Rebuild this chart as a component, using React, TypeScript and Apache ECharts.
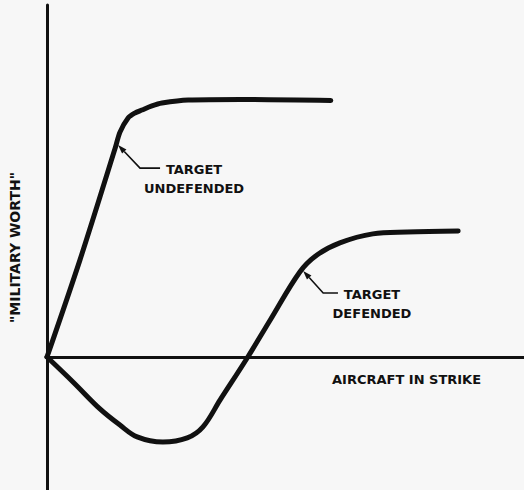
import React, { useEffect, useRef } from "react";
import * as echarts from "echarts";

// Aircraft in strike (relative scale) vs. "military worth" (relative scale)
const undefendedX = [0, 6.9, 14.3, 15.3, 17.0, 18.4, 19.9, 22.0, 24.1, 29.6, 40.5, 59.5];
const undefendedY = [0, 37.7, 81.3, 87.5, 93.0, 94.9, 96.1, 97.7, 98.8, 100, 100.2, 99.8];

const defendedX = [0, 5.45, 11.1, 15.3, 18.9, 24.3, 29.4, 32.7, 36.3, 42.1, 46.8, 53.0, 56.6, 61.4, 68.3, 75.5, 86.2];
const defendedY = [0, -9.7, -20.2, -26.5, -31.1, -33.1, -31.5, -27.2, -16.7, 0, 14.4, 33.1, 39.7, 44.4, 47.9, 48.6, 49.0];

// Callouts: arrow tip on the curve, elbow of the leader, end of the leader
const calloutLabels = ["TARGET\nUNDEFENDED", "TARGET\nDEFENDED"];
const calloutTips = [[14.9, 82.5], [53.7, 33.5]];
const calloutElbows = [[19.5, 73.5], [57.9, 24.9]];
const calloutEnds = [[23.7, 73.5], [61.0, 24.9]];

const axisTitleY = '"MILITARY WORTH"';
const axisTitleX = "AIRCRAFT IN STRIKE";

const INK = "#111111";
const FONT = '"DejaVu Sans", sans-serif';

const zip = (xs: number[], ys: number[]) => xs.map((x, i) => [x, ys[i]]);

export default function App() {
  const ref = useRef<HTMLDivElement>(null);

  useEffect(() => {
    if (!ref.current) return;
    const chart = echarts.init(ref.current, null, { renderer: "svg" });

    const curveStyle = { color: INK, width: 5, cap: "round" as const, join: "round" as const };

    chart.setOption({
      animation: false,
      backgroundColor: "#f7f7f7",
      grid: { left: 47, right: 0, top: 5, bottom: 0 },
      xAxis: {
        type: "value",
        min: 0,
        max: 100,
        axisLine: { show: true, onZero: true, lineStyle: { color: INK, width: 3 } },
        axisTick: { show: false },
        axisLabel: { show: false },
        splitLine: { show: false },
      },
      yAxis: {
        type: "value",
        min: -51.75,
        max: 136.96,
        name: axisTitleY,
        nameLocation: "middle",
        nameRotate: 90,
        nameGap: 25,
        nameTextStyle: { color: INK, fontFamily: FONT, fontWeight: "bold", fontSize: 14, padding: [0, 0, 0, 0] },
        axisLine: { show: true, lineStyle: { color: INK, width: 3 } },
        axisTick: { show: false },
        axisLabel: { show: false },
        splitLine: { show: false },
      },
      graphic: [
        {
          type: "text",
          left: 332,
          top: 373,
          style: { text: axisTitleX, fill: INK, font: `bold 13px ${FONT}` },
        },
      ],
      series: [
        {
          name: "Target undefended",
          type: "line",
          data: zip(undefendedX, undefendedY),
          smooth: 0.3,
          symbol: "none",
          lineStyle: curveStyle,
        },
        {
          name: "Target defended",
          type: "line",
          data: zip(defendedX, defendedY),
          smooth: 0.35,
          symbol: "none",
          lineStyle: curveStyle,
        },
        {
          name: "Callouts",
          type: "custom",
          data: calloutLabels.map((_, i) => [calloutEnds[i][0], calloutEnds[i][1]]),
          renderItem: (params: any, api: any) => {
            const i = params.dataIndex;
            const tip = api.coord(calloutTips[i]);
            const elbow = api.coord(calloutElbows[i]);
            const end = api.coord(calloutEnds[i]);
            const dx = tip[0] - elbow[0];
            const dy = tip[1] - elbow[1];
            const len = Math.hypot(dx, dy) || 1;
            const ux = dx / len;
            const uy = dy / len;
            const head = 9;
            const half = 3;
            const bx = tip[0] - ux * head;
            const by = tip[1] - uy * head;
            const nx = -uy;
            const ny = ux;
            return {
              type: "group",
              children: [
                {
                  type: "polyline",
                  shape: { points: [[bx, by], elbow, end] },
                  style: { stroke: INK, lineWidth: 1.6, fill: null },
                },
                {
                  type: "polygon",
                  shape: {
                    points: [
                      tip,
                      [bx + nx * half, by + ny * half],
                      [bx - nx * half, by - ny * half],
                    ],
                  },
                  style: { fill: INK },
                },
                {
                  type: "text",
                  x: end[0] + 34,
                  y: end[1] - 8,
                  style: {
                    text: calloutLabels[i],
                    fill: INK,
                    font: `bold 13px ${FONT}`,
                    align: "center",
                    verticalAlign: "top",
                    lineHeight: 19,
                  },
                },
              ],
            };
          },
        },
      ],
    });

    return () => chart.dispose();
  }, []);

  return (
    <div
      ref={ref}
      style={{ position: "fixed", left: 0, top: 0, width: 524, height: 490, background: "#f7f7f7" }}
    />
  );
}
